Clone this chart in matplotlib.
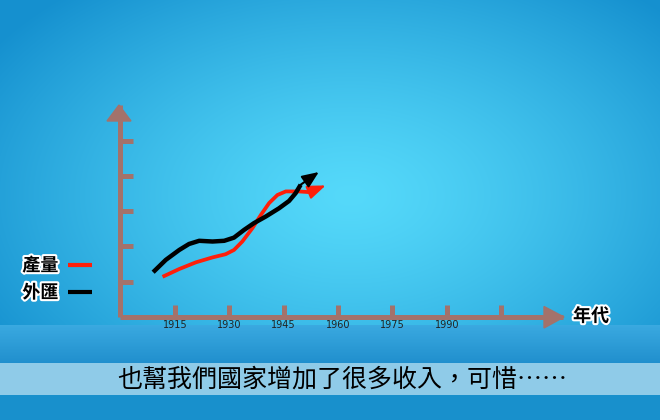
import numpy as np
import matplotlib
matplotlib.use("Agg")
import matplotlib.pyplot as plt
import matplotlib.patheffects as pe
from matplotlib.patches import Polygon

plt.rcParams['font.family'] = ['Noto Sans CJK TC', 'DejaVu Sans']

# data (year, index value)
output_x = [1911.6, 1916.2, 1920.8, 1925.4, 1929.0, 1931.3, 1933.6, 1936.4,
            1938.7, 1941.0, 1943.3, 1945.6, 1949.2, 1952.0, 1956.6]
output_y = [1.14, 1.36, 1.55, 1.69, 1.78, 1.90, 2.14, 2.52,
            2.89, 3.23, 3.46, 3.56, 3.56, 3.54, 3.73]
forex_x = [1909.0, 1912.5, 1916.2, 1918.9, 1921.7, 1925.4, 1928.6, 1931.3,
           1934.1, 1936.8, 1940.1, 1943.7, 1946.5, 1948.3, 1949.7, 1954.7]
forex_y = [1.27, 1.62, 1.90, 2.07, 2.16, 2.14, 2.16, 2.25,
           2.47, 2.66, 2.85, 3.08, 3.29, 3.51, 3.75, 4.11]
year_ticks = [1915, 1930, 1945, 1960, 1975, 1990, 2005]
year_labels = ['1915', '1930', '1945', '1960', '1975', '1990', '']
value_ticks = [1, 2, 3, 4, 5]
series_labels = ['產量', '外匯']
x_title = '年代'
subtitle = '也幫我們國家增加了很多收入，可惜……'

W, H = 660, 420
brown = '#a3726b'
red = '#ff1f0a'

fig = plt.figure(figsize=(W / 100, H / 100), dpi=100)

# background: radial blue glow + bottom band + subtitle bar
bg = fig.add_axes([0, 0, 1, 1], zorder=0)
yy, xx = np.mgrid[0:H, 0:W]
r = np.clip(np.sqrt(((xx - 350) / 430.0) ** 2 + ((yy - 195) / 270.0) ** 2), 0, 1)
light = np.array([0x55, 0xd9, 0xfa]) / 255
dark = np.array([0x15, 0x90, 0xcf]) / 255
img = light * (1 - r[..., None] ** 1.3) + dark * r[..., None] ** 1.3
top_band = np.array([0x3a, 0xa9, 0xe0]) / 255
low_band = np.array([0x20, 0x8f, 0xcd]) / 255
for row in range(325, 363):
    t = (row - 325) / 38
    img[row] = top_band * (1 - t) + low_band * t
img[363:395] = np.array([0x8f, 0xcb, 0xe8]) / 255
img[395:] = np.array([0x18, 0x90, 0xcc]) / 255
bg.imshow(img, extent=(0, W, H, 0), aspect='auto')
bg.set_xlim(0, W)
bg.set_ylim(H, 0)
bg.axis('off')

# chart axes, placed in pixels: y axis at x=120, x axis at y=317
left, right, bottom, top = 120, 563, 317, 105
ax = fig.add_axes([left / W, (H - bottom) / H, (right - left) / W, (bottom - top) / H], zorder=1)
ax.set_facecolor('none')
ax.set_xlim(1899.86, 2022.07)
ax.set_ylim(0, 6.01)
for s in ['top', 'right']:
    ax.spines[s].set_visible(False)
for s in ['left', 'bottom']:
    ax.spines[s].set_color(brown)
    ax.spines[s].set_linewidth(3.6)
    ax.spines[s].set_capstyle('butt')
ax.set_xticks(year_ticks)
ax.set_xticklabels(year_labels, fontsize=7, color='#222222', family='DejaVu Sans')
ax.set_yticks(value_ticks)
ax.set_yticklabels([])
ax.tick_params(axis='x', direction='in', length=9, width=3.6, color=brown, pad=2)
ax.tick_params(axis='y', direction='in', length=9.6, width=3.6, color=brown)

# axis arrow heads (pixel coords -> figure fraction)
def px(x, y):
    return (x / W, (H - y) / H)

fig.patches.append(Polygon([px(107, 121), px(131, 121), px(119, 105)], closed=True,
                           transform=fig.transFigure, color=brown, zorder=2))
fig.patches.append(Polygon([px(544, 306.5), px(544, 328), px(564, 317)], closed=True,
                           transform=fig.transFigure, color=brown, zorder=2))

# the two series, each ending in an arrow head
ax.plot(output_x[:-1], output_y[:-1], color=red, lw=2.7, solid_capstyle='butt',
        label=series_labels[0], clip_on=False)
ax.plot(forex_x[:-1], forex_y[:-1], color='black', lw=3.2, solid_capstyle='butt',
        label=series_labels[1], clip_on=False)
ax.annotate('', xy=(output_x[-1], output_y[-1]), xytext=(output_x[-2], output_y[-2]),
            arrowprops=dict(arrowstyle='-|>,head_length=1.1,head_width=0.42', color=red,
                            lw=1.5, mutation_scale=10, shrinkA=0, shrinkB=0))
ax.annotate('', xy=(forex_x[-1], forex_y[-1]), xytext=(forex_x[-2], forex_y[-2]),
            arrowprops=dict(arrowstyle='-|>,head_length=1.0,head_width=0.42', color='black',
                            lw=1.5, mutation_scale=10, shrinkA=0, shrinkB=0))

outline = [pe.SimplePatchShadow(offset=(1.2, -1.2), shadow_rgbFace='black', alpha=0.35),
           pe.Stroke(linewidth=3, foreground='white'), pe.Normal()]

leg = ax.legend(loc='center', bbox_to_anchor=px(57, 279), bbox_transform=fig.transFigure,
                frameon=False, markerfirst=False, handlelength=1.3, handletextpad=0.55,
                labelspacing=0.45, borderpad=0, prop={'size': 13, 'weight': 'bold'})
for t in leg.get_texts():
    t.set_path_effects(outline)
for h in leg.legend_handles:
    h.set_linewidth(3)

fig.text(*px(591, 316), x_title, fontsize=13, fontweight='bold', ha='center', va='center',
         path_effects=outline)
fig.text(*px(342, 380), subtitle, fontsize=18, ha='center', va='center', color='black')

fig.savefig('out.png', dpi=100)
